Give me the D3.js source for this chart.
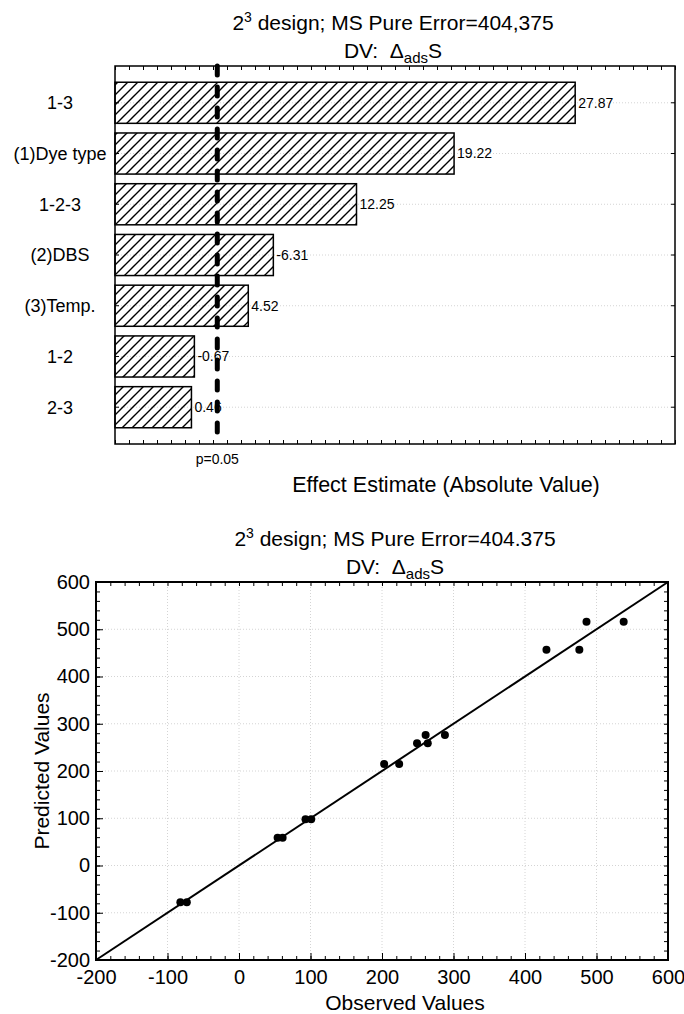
<!DOCTYPE html>
<html>
<head>
<meta charset="utf-8">
<script src="https://cdn.jsdelivr.net/npm/d3@7"></script>
<style>
  body { margin: 0; background: #fff; }
  svg { font-family: "Liberation Sans", Arial, sans-serif; }
  text { white-space: pre; }
</style>
</head>
<body>
<div id="chart"></div>
<script>
// pareto chart data
var categories = ["1-3", "(1)Dye type", "1-2-3", "(2)DBS", "(3)Temp.", "1-2", "2-3"];
var effects = [27.87, 19.22, 12.25, -6.31, 4.52, -0.67, 0.46];
var pCritical = 2.306;
var pLabel = "p=0.05";

// observed vs predicted data
var observed  = [-82, -73, 54, 61, 93, 101, 203, 224, 249, 264, 261, 288, 430, 476, 486, 538];
var predicted = [-77.6, -77.6, 58.5, 58.5, 97.9, 97.9, 215, 215, 258.6, 258.6, 276.3, 276.3, 456.7, 456.7, 515.9, 515.9];
var obsTicks = [-200, -100, 0, 100, 200, 300, 400, 500, 600];
var predTicks = [-200, -100, 0, 100, 200, 300, 400, 500, 600];

var width = 684, height = 1014;

var svg = d3.select("#chart")
  .append("svg")
    .attr("width", width)
    .attr("height", height);

// hatch pattern for the bars
var defs = svg.append("defs");
defs.append("pattern")
    .attr("id", "hatch")
    .attr("patternUnits", "userSpaceOnUse")
    .attr("width", 10)
    .attr("height", 10)
  .append("path")
    .attr("d", "M-1,1 l2,-2 M0,10 l10,-10 M9,11 l2,-2")
    .attr("stroke", "#000")
    .attr("stroke-width", 1.4);

function drawTitle(g, cx, y, err) {
  var t1 = g.append("text")
      .attr("x", cx).attr("y", y)
      .attr("text-anchor", "middle")
      .style("font-size", "21px");
  t1.append("tspan").text("2");
  t1.append("tspan").attr("dy", -8).style("font-size", "14px").text("3");
  t1.append("tspan").attr("dy", 8).text(" design; MS Pure Error=" + err);

  var t2 = g.append("text")
      .attr("x", cx).attr("y", y + 28)
      .attr("text-anchor", "middle")
      .style("font-size", "21px");
  t2.append("tspan").text("DV:  \u0394");
  t2.append("tspan").attr("dy", 5).style("font-size", "15px").text("ads");
  t2.append("tspan").attr("dy", -5).text("S");
}

function noDomain(g) { g.select(".domain").remove(); }

// ---------- top: pareto chart ----------
var topG = svg.append("g");

var x1 = d3.scaleLinear()
  .domain([-5, 35])
  .range([115, 675]);

var y1 = d3.scaleBand()
  .domain(categories)
  .range([66, 444])
  .paddingInner(0.19)
  .paddingOuter(0.32);

drawTitle(topG, 393, 30, "404,375");

// grid lines at bar centres
topG.selectAll(".grid1")
  .data(categories)
  .enter()
  .append("line")
    .attr("x1", x1.range()[0])
    .attr("x2", x1.range()[1])
    .attr("y1", function(d) { return y1(d) + y1.bandwidth() / 2; })
    .attr("y2", function(d) { return y1(d) + y1.bandwidth() / 2; })
    .attr("stroke", "#d4d4d4")
    .attr("stroke-dasharray", "1,2");

topG.selectAll("rect.bar")
  .data(effects)
  .enter()
  .append("rect")
    .attr("class", "bar")
    .attr("x", x1(-5))
    .attr("y", function(d, i) { return y1(categories[i]); })
    .attr("width", function(d) { return x1(Math.abs(d)) - x1(-5); })
    .attr("height", y1.bandwidth())
    .attr("fill", "url(#hatch)")
    .attr("stroke", "#000")
    .attr("stroke-width", 1.5);

topG.selectAll("text.val")
  .data(effects)
  .enter()
  .append("text")
    .attr("class", "val")
    .attr("x", function(d) { return x1(Math.abs(d)) + 3; })
    .attr("y", function(d, i) { return y1(categories[i]) + y1.bandwidth() / 2; })
    .attr("dy", "0.35em")
    .style("font-size", "14px")
    .text(function(d) { return d.toFixed(2); });

topG.selectAll("text.cat")
  .data(categories)
  .enter()
  .append("text")
    .attr("class", "cat")
    .attr("x", 60)
    .attr("y", function(d) { return y1(d) + y1.bandwidth() / 2; })
    .attr("dy", "0.35em")
    .attr("text-anchor", "middle")
    .style("font-size", "18px")
    .text(function(d) { return d; });

// minor ticks all around
var tk = d3.range(-5, 36, 1);
topG.append("g")
    .attr("transform", "translate(0,444)")
    .call(d3.axisBottom(x1).tickValues(tk).tickSize(-4).tickFormat(""))
    .call(noDomain);
topG.append("g")
    .attr("transform", "translate(0,66)")
    .call(d3.axisTop(x1).tickValues(tk).tickSize(-4).tickFormat(""))
    .call(noDomain);
topG.append("g")
    .attr("transform", "translate(115,0)")
    .call(d3.axisLeft(y1).tickSize(-4).tickFormat(""))
    .call(noDomain);
topG.append("g")
    .attr("transform", "translate(675,0)")
    .call(d3.axisRight(y1).tickSize(-4).tickFormat(""))
    .call(noDomain);

topG.append("rect")
    .attr("x", x1.range()[0])
    .attr("y", y1.range()[0])
    .attr("width", x1.range()[1] - x1.range()[0])
    .attr("height", y1.range()[1] - y1.range()[0])
    .attr("fill", "none")
    .attr("stroke", "#000")
    .attr("stroke-width", 1.5);

// p = 0.05 line
topG.append("line")
    .attr("x1", x1(pCritical))
    .attr("x2", x1(pCritical))
    .attr("y1", y1.range()[0])
    .attr("y2", y1.range()[1])
    .attr("stroke", "#000")
    .attr("stroke-width", 5)
    .attr("stroke-linecap", "round")
    .attr("stroke-dasharray", "9,12");

topG.append("text")
    .attr("x", x1(pCritical))
    .attr("y", 464)
    .attr("text-anchor", "middle")
    .style("font-size", "14px")
    .text(pLabel);

topG.append("text")
    .attr("x", 446)
    .attr("y", 492)
    .attr("text-anchor", "middle")
    .style("font-size", "21.5px")
    .text("Effect Estimate (Absolute Value)");

// ---------- bottom: observed vs predicted ----------
var botG = svg.append("g");

var x2 = d3.scaleLinear()
  .domain([-200, 600])
  .range([96, 668]);

var y2 = d3.scaleLinear()
  .domain([-200, 600])
  .range([960, 582]);

drawTitle(botG, 395, 546, "404.375");

botG.selectAll(".gx")
  .data(obsTicks.slice(1, -1))
  .enter()
  .append("line")
    .attr("x1", function(d) { return x2(d); })
    .attr("x2", function(d) { return x2(d); })
    .attr("y1", y2.range()[0])
    .attr("y2", y2.range()[1])
    .attr("stroke", "#d4d4d4")
    .attr("stroke-dasharray", "1,2");

botG.selectAll(".gy")
  .data(predTicks.slice(1, -1))
  .enter()
  .append("line")
    .attr("y1", function(d) { return y2(d); })
    .attr("y2", function(d) { return y2(d); })
    .attr("x1", x2.range()[0])
    .attr("x2", x2.range()[1])
    .attr("stroke", "#d4d4d4")
    .attr("stroke-dasharray", "1,2");

var minor = d3.range(-200, 601, 20);

botG.append("g")
    .attr("transform", "translate(0,960)")
    .call(d3.axisBottom(x2).tickValues(minor).tickSize(-4).tickFormat(""))
    .call(noDomain);
botG.append("g")
    .attr("transform", "translate(0,582)")
    .call(d3.axisTop(x2).tickValues(minor).tickSize(-4).tickFormat(""))
    .call(noDomain);
botG.append("g")
    .attr("transform", "translate(96,0)")
    .call(d3.axisLeft(y2).tickValues(minor).tickSize(-4).tickFormat(""))
    .call(noDomain);
botG.append("g")
    .attr("transform", "translate(668,0)")
    .call(d3.axisRight(y2).tickValues(minor).tickSize(-4).tickFormat(""))
    .call(noDomain);

function styleLabels(g) {
  g.selectAll("text")
    .style("font-size", "20px")
    .style("font-family", "'Liberation Sans', Arial, sans-serif")
    .attr("fill", "#000");
}

// labelled axes
botG.append("g")
    .attr("transform", "translate(0,960)")
    .call(d3.axisBottom(x2).tickValues(obsTicks).tickSize(-7).tickPadding(10).tickFormat(function(d) { return String(d); }))
    .call(noDomain)
    .call(styleLabels);
botG.append("g")
    .attr("transform", "translate(96,0)")
    .call(d3.axisLeft(y2).tickValues(predTicks).tickSize(-7).tickPadding(6).tickFormat(function(d) { return String(d); }))
    .call(noDomain)
    .call(styleLabels);

botG.append("rect")
    .attr("x", x2.range()[0])
    .attr("y", y2.range()[1])
    .attr("width", x2.range()[1] - x2.range()[0])
    .attr("height", y2.range()[0] - y2.range()[1])
    .attr("fill", "none")
    .attr("stroke", "#000")
    .attr("stroke-width", 2);

// reference line
botG.append("line")
    .attr("x1", x2(-200)).attr("y1", y2(-200))
    .attr("x2", x2(600)).attr("y2", y2(600))
    .attr("stroke", "#000")
    .attr("stroke-width", 2);

botG.selectAll("circle")
  .data(observed)
  .enter()
  .append("circle")
    .attr("cx", function(d) { return x2(d); })
    .attr("cy", function(d, i) { return y2(predicted[i]); })
    .attr("r", 4)
    .attr("fill", "#000");

botG.append("text")
    .attr("x", 405)
    .attr("y", 1010)
    .attr("text-anchor", "middle")
    .style("font-size", "21px")
    .text("Observed Values");

botG.append("text")
    .attr("transform", "translate(49,771) rotate(-90)")
    .attr("text-anchor", "middle")
    .style("font-size", "21px")
    .text("Predicted Values");
</script>
</body>
</html>
